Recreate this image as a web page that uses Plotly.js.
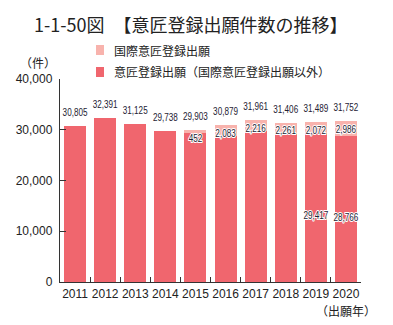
<!DOCTYPE html>
<html>
<head>
<meta charset="utf-8">
<script src="https://cdn.plot.ly/plotly-3.0.1.min.js"></script>
<style>
html,body{margin:0;padding:0;background:#fff;}
#chart{width:393px;height:325px;}
#chart g.textpoint text{
  transform-box: fill-box; transform-origin: center; transform: scaleX(0.74);
  paint-order: stroke; stroke: #fff; stroke-width: 2.2px; stroke-linejoin: round;
}
</style>
</head>
<body>
<div id="chart"></div>
<script>
const years = ['2011','2012','2013','2014','2015','2016','2017','2018','2019','2020'];
const totals = [30805, 32391, 31125, 29738, 29903, 30879, 31961, 31406, 31489, 31752];
const international = [0, 0, 0, 0, 452, 2083, 2216, 2261, 2072, 2986];
const domestic = [30805, 32391, 31125, 29738, 29451, 28796, 29745, 29145, 29417, 28766];
const domesticLabelYears = ['2019', '2020'];
const yTicks = [0, 10000, 20000, 30000, 40000];
const yTickText = ['0', '10,000', '20,000', '30,000', '40,000'];
const seriesNames = ['意匠登録出願（国際意匠登録出願以外）', '国際意匠登録出願'];
const seriesColors = ['#F0666E', '#F8B3AD'];

const numFont = 'Liberation Sans, Arial, sans-serif';
const jpFont = 'Noto Sans CJK JP, Noto Sans, sans-serif';
const fmt = v => String(v).replace(/\B(?=(\d{3})+(?!\d))/g, ',');

const L = 60, R = 32, T = 79, B = 43, W = 393, H = 325;
const pw = W - L - R, ph = H - T - B;
const px = x => (x - L) / pw;
const py = y => (H - B - y) / ph;

const labelFont = {family: numFont, size: 11, color: '#1e2233'};

const intlIdx = years.map((y, i) => i).filter(i => international[i] > 0);
const domIdx = years.map((y, i) => i).filter(i => domesticLabelYears.includes(years[i]));

const hiddenMarker = size => ({size: size, opacity: 0, color: 'rgba(0,0,0,0)'});

const traces = [
  {type:'bar', x: years, y: domestic, name: seriesNames[0],
   marker:{color: seriesColors[0]}, hoverinfo:'skip', showlegend:false},
  {type:'bar', x: years, y: international, name: seriesNames[1],
   marker:{color: seriesColors[1]}, hoverinfo:'skip', showlegend:false},
  {type:'scatter', mode:'markers+text', x: years, y: totals, text: totals.map(fmt),
   marker: hiddenMarker(10),
   textposition:'top center', textfont: labelFont, hoverinfo:'skip', showlegend:false, cliponaxis:false},
  {type:'scatter', mode:'markers+text', x: intlIdx.map(i => years[i]), y: intlIdx.map(i => totals[i]),
   text: intlIdx.map(i => fmt(international[i])), marker: hiddenMarker(4),
   textposition:'bottom center', textfont: labelFont, hoverinfo:'skip', showlegend:false, cliponaxis:false},
  {type:'scatter', mode:'text', x: domIdx.map(i => years[i]), y: domIdx.map(i => domestic[i] * 0.44),
   text: domIdx.map(i => fmt(domestic[i])),
   textposition:'middle center', textfont: labelFont, hoverinfo:'skip', showlegend:false, cliponaxis:false}
];

const annotations = [];
const shapes = [];

// unit labels
annotations.push({x: px(38), y: py(62), xref:'paper', yref:'paper', text:'（件）', showarrow:false,
  xanchor:'center', yanchor:'middle', font:{family:jpFont, size:12, color:'#222'}});
annotations.push({x: px(346), y: py(310), xref:'paper', yref:'paper', text:'（出願年）', showarrow:false,
  xanchor:'center', yanchor:'middle', font:{family:jpFont, size:12, color:'#222'}});

// custom legend (top entry: international, bottom: domestic)
const legendRows = [{name: seriesNames[1], color: seriesColors[1], y: 50},
                    {name: seriesNames[0], color: seriesColors[0], y: 72}];
legendRows.forEach(r => {
  shapes.push({type:'rect', xref:'paper', yref:'paper', x0: px(96), x1: px(104),
    y0: py(r.y - 5), y1: py(r.y + 5), fillcolor: r.color, line:{width:0}});
  annotations.push({x: px(112), y: py(r.y), xref:'paper', yref:'paper', text: r.name,
    showarrow:false, xanchor:'left', yanchor:'middle',
    font:{family:jpFont, size:12, color:'#222'}});
});

const layout = {
  width: W, height: H,
  margin: {l: L, r: R, t: T, b: B, pad: 0},
  paper_bgcolor:'#fff', plot_bgcolor:'#fff',
  barmode:'stack', bargap: 0.27,
  showlegend: false,
  title: {text:'1-1-50図　【意匠登録出願件数の推移】', x: 34/W, xanchor:'left', xref:'container',
    y: 1 - 26/H, yanchor:'middle', yref:'container',
    font:{family:jpFont, size:18, color:'#222'}},
  xaxis: {type:'category', range:[-0.5, 9.5], showline:true, linecolor:'#333', linewidth:1.2,
    ticks:'inside', tickson:'boundaries', ticklen:5, tickcolor:'#333', tickangle:0,
    tickfont:{family:numFont, size:12, color:'#222'}, showgrid:false, zeroline:false},
  yaxis: {range:[0, 40000], tickvals: yTicks, ticktext: yTickText, showline:true, linecolor:'#333', linewidth:1.2,
    ticks:'inside', ticklen:6, tickcolor:'#333', layer:'above traces',
    tickfont:{family:numFont, size:12, color:'#222'}, showgrid:false, zeroline:false, ticklabelstandoff:4},
  annotations: annotations,
  shapes: shapes
};

Plotly.newPlot('chart', traces, layout, {displayModeBar:false, staticPlot:true});
</script>
</body>
</html>
